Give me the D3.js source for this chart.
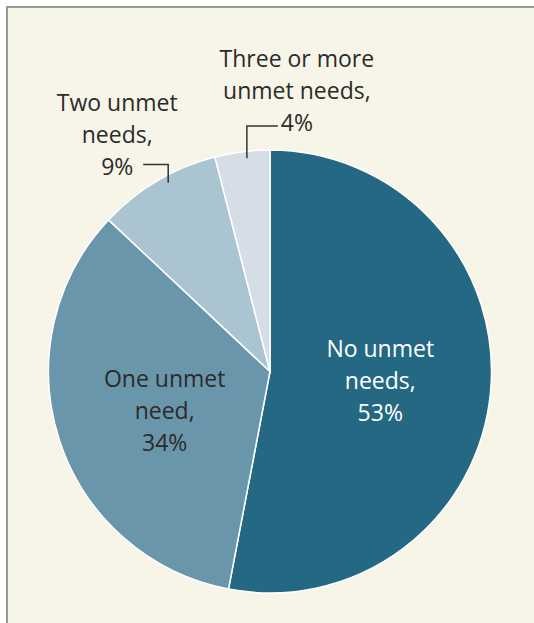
<html>
<head>
  <meta charset="utf-8">
  <script src="https://d3js.org/d3.v7.min.js"></script>
  <style>
    body { margin: 0; background: #fff; }
    text { font-family: "Open Sans", sans-serif; }
  </style>
</head>
<body>
<div id="chart"></div>
<script>
// data
var categories = ["No unmet needs", "One unmet need", "Two unmet needs", "Three or more unmet needs"];
var values = [53, 34, 9, 4];
var labelLines = [
  ["No unmet", "needs,", "53%"],
  ["One unmet", "need,", "34%"],
  ["Two unmet", "needs,", "9%"],
  ["Three or more", "unmet needs,", "4%"]
];
var colors = ["#256883", "#6996aa", "#abc4d2", "#d5dee6"];

var width = 534, height = 623;
var cx = 270, cy = 371.5, radius = 221.5;
var lineH = 32, fontSize = 23;

var svg = d3.select("#chart").append("svg")
  .attr("width", width)
  .attr("height", height);

// cream panel with grey frame (cut off at right and bottom)
svg.append("rect")
  .attr("x", 7).attr("y", 7)
  .attr("width", width + 10).attr("height", height + 10)
  .attr("fill", "#f7f4e8")
  .attr("stroke", "#999")
  .attr("stroke-width", 2);

var g = svg.append("g").attr("transform", "translate(" + cx + "," + cy + ")");

var pie = d3.pie().sort(null).value(function(d) { return d; });
var arcs = pie(values);

var arc = d3.arc().innerRadius(0).outerRadius(radius);

g.selectAll("path.slice")
  .data(arcs)
  .enter()
  .append("path")
    .attr("class", "slice")
    .attr("d", arc)
    .attr("fill", function(d, i) { return colors[i]; })
    .attr("stroke", "#fff")
    .attr("stroke-width", 1.5);

// labels inside the two big slices, centred on the arc centroid
[0, 1].forEach(function(i) {
  var c = arc.centroid(arcs[i]);
  var t = g.append("text")
    .attr("text-anchor", "middle")
    .attr("font-size", fontSize)
    .attr("fill", i == 0 ? "#fff" : "#2b2b2b");
  labelLines[i].forEach(function(s, k) {
    t.append("tspan")
      .attr("x", c[0])
      .attr("y", c[1] + 7 + (k - 1) * lineH + (i == 1 ? 6 : 0))
      .text(s);
  });
});

// outside labels with elbow leader lines
var outside = [
  { i: 2, frac: 0.57, elbowY: -207, dir: -1, len: 25, textDx: -51, lastDy: 10 },
  { i: 3, frac: 0.57, elbowY: -245.5, dir: 1, len: 31, textDx: 50, lastDy: 5 }
];

outside.forEach(function(o) {
  var a = arcs[o.i];
  var ang = a.startAngle + o.frac * (a.endAngle - a.startAngle);
  var x0 = Math.sin(ang) * (radius - 7);
  var y0 = -Math.cos(ang) * (radius - 7);
  g.append("path")
    .attr("d", d3.line()([[x0, y0], [x0, o.elbowY], [x0 + o.dir * o.len, o.elbowY]]))
    .attr("fill", "none")
    .attr("stroke", "#333")
    .attr("stroke-width", 1.5);
  var t = g.append("text")
    .attr("text-anchor", "middle")
    .attr("font-size", fontSize)
    .attr("fill", "#2b2b2b");
  var n = labelLines[o.i].length;
  labelLines[o.i].forEach(function(s, k) {
    t.append("tspan")
      .attr("x", x0 + o.textDx)
      .attr("y", o.elbowY + o.lastDy - (n - 1 - k) * lineH)
      .text(s);
  });
});
</script>
</body>
</html>
